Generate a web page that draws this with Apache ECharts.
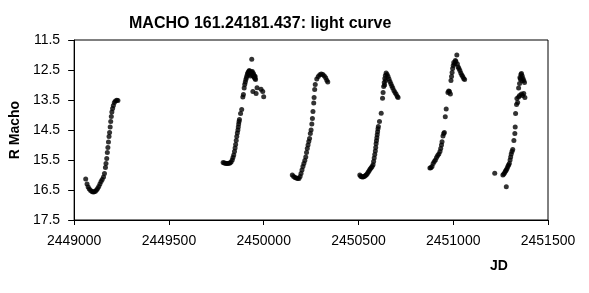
<!DOCTYPE html>
<html>
<head>
<meta charset="utf-8">
<script src="https://cdn.jsdelivr.net/npm/echarts@6/dist/echarts.min.js"></script>
<style>
html,body{margin:0;padding:0;background:#fff;}
#chart{width:589px;height:293px;}
</style>
</head>
<body>
<div id="chart"></div>
<script>
var titleText = "MACHO 161.24181.437: light curve";
var xAxisName = "JD";
var yAxisName = "R Macho";

var s1Jd  = [2449061,2449068,2449074,2449080,2449087,2449094,2449100,2449106,2449112,2449118,2449124,2449130,2449136,2449142,2449148,2449155,2449160,2449165,2449168,2449172,2449175,2449178,2449181,2449184,2449187,2449190,2449193,2449196,2449199,2449203,2449207,2449212,2449218,2449225,2449231];
var s1Mag = [16.13,16.30,16.40,16.47,16.52,16.55,16.57,16.56,16.54,16.50,16.45,16.38,16.30,16.22,16.15,16.07,15.95,15.75,15.62,15.45,15.25,15.08,14.90,14.72,14.58,14.40,14.22,14.05,13.90,13.78,13.68,13.58,13.53,13.51,13.52];

var s2Jd  = [2449786,2449792,2449798,2449804,2449810,2449816,2449822,2449828,2449834,2449838,2449842,2449846,2449849,2449852,2449855,2449858,2449861,2449864,2449866,2449868,2449870,2449872,2449878,2449884,2449890,2449893,2449897,2449900,2449903,2449906,2449909,2449912,2449915,2449918,2449921,2449924,2449927,2449930,2449933,2449936,2449939,2449942,2449945,2449948,2449951,2449954,2449957,2449925,2449930,2449940,2449946,2449950,2449955,2449937,2449943,2449960,2449965,2449986,2449995,2450000];
var s2Mag = [15.58,15.60,15.61,15.62,15.62,15.61,15.60,15.57,15.50,15.42,15.33,15.22,15.10,14.98,14.85,14.72,14.60,14.50,14.40,14.30,14.22,14.15,13.95,13.82,13.40,13.32,13.10,12.98,12.90,12.82,12.75,12.68,12.62,12.58,12.55,12.52,12.55,12.58,12.60,12.57,12.62,12.66,12.70,12.72,12.75,12.78,12.82,12.65,12.70,12.55,12.62,12.68,12.72,12.14,13.22,13.28,13.09,13.14,13.22,13.39];

var s3Jd  = [2450151,2450158,2450165,2450172,2450179,2450186,2450192,2450197,2450202,2450207,2450212,2450217,2450222,2450226,2450230,2450234,2450238,2450242,2450246,2450250,2450254,2450257,2450260,2450264,2450266,2450269,2450272,2450280,2450288,2450296,2450304,2450312,2450320,2450327,2450333,2450338];
var s3Mag = [16.00,16.05,16.08,16.10,16.12,16.12,16.05,15.95,15.83,15.72,15.62,15.52,15.40,15.25,15.12,15.00,14.88,14.78,14.62,14.50,14.30,14.12,13.88,13.60,13.42,13.15,12.98,12.80,12.72,12.66,12.63,12.65,12.70,12.76,12.84,12.90];

var s4Jd  = [2450507,2450512,2450517,2450522,2450527,2450532,2450537,2450542,2450547,2450552,2450557,2450562,2450567,2450572,2450577,2450580,2450583,2450586,2450589,2450591,2450593,2450595,2450597,2450599,2450601,2450603,2450605,2450611,2450620,2450627,2450630,2450633,2450636,2450639,2450642,2450646,2450651,2450656,2450661,2450666,2450671,2450676,2450681,2450687,2450693,2450699,2450705,2450709,2450638,2450643];
var s4Mag = [16.00,16.04,16.06,16.07,16.06,16.04,16.02,15.99,15.95,15.90,15.85,15.80,15.76,15.72,15.66,15.55,15.43,15.32,15.20,15.08,14.96,14.86,14.76,14.66,14.56,14.46,14.38,14.22,13.94,13.44,13.25,13.05,12.92,12.78,12.68,12.60,12.65,12.72,12.80,12.88,12.96,13.03,13.10,13.18,13.25,13.31,13.38,13.42,13.00,12.85];

var s5Jd  = [2450877,2450882,2450888,2450894,2450900,2450906,2450912,2450918,2450924,2450930,2450934,2450938,2450941,2450946,2450950,2450953,2450958,2450963,2450972,2450976,2450980,2450985,2450988,2450991,2450994,2450997,2451000,2451003,2451007,2451011,2451014,2451019,2451022,2451026,2451030,2451035,2451040,2451045,2451050,2451055,2451060];
var s5Mag = [15.77,15.76,15.72,15.62,15.55,15.50,15.42,15.35,15.30,15.22,15.12,15.00,14.89,14.70,14.62,14.58,14.06,13.80,13.25,13.20,13.22,13.30,12.85,12.72,12.58,12.45,12.35,12.25,12.30,12.18,12.22,12.00,12.30,12.40,12.45,12.52,12.60,12.67,12.72,12.78,12.82];

var s6Jd  = [2451219,2451262,2451267,2451272,2451276,2451280,2451284,2451288,2451292,2451296,2451300,2451303,2451306,2451310,2451314,2451280,2451320,2451325,2451327,2451329,2451334,2451340,2451336,2451345,2451350,2451360,2451366,2451372,2451378,2451345,2451350,2451354,2451357,2451360,2451364,2451368,2451372,2451376,2451352,2451362];
var s6Mag = [15.94,16.00,15.97,15.92,15.87,15.83,15.78,15.72,15.67,15.62,15.50,15.40,15.30,15.22,15.15,16.39,14.85,14.62,14.40,13.95,13.65,13.58,13.45,13.40,13.35,13.30,13.35,13.28,13.42,13.10,12.95,12.80,12.65,12.62,12.70,12.78,12.85,12.92,12.75,12.85];

var seasonsJd  = [s1Jd, s2Jd, s3Jd, s4Jd, s5Jd, s6Jd];
var seasonsMag = [s1Mag, s2Mag, s3Mag, s4Mag, s5Mag, s6Mag];

var points = [];
for (var s = 0; s < seasonsJd.length; s++) {
  for (var i = 0; i < seasonsJd[s].length; i++) {
    points.push([seasonsJd[s][i], seasonsMag[s][i]]);
  }
}

var font = "Arial, 'Liberation Sans', sans-serif";
var chart = echarts.init(document.getElementById('chart'), null, {renderer: 'canvas'});
chart.setOption({
  animation: false,
  backgroundColor: '#fff',
  title: {
    text: titleText,
    left: 129, top: 16, padding: 0,
    textStyle: {fontFamily: font, fontSize: 16, fontWeight: 'bold', color: '#000'}
  },
  graphic: [{
    type: 'text',
    left: 490, top: 259,
    style: {text: xAxisName, fontFamily: font, fontSize: 14, fontWeight: 'bold', fill: '#000'}
  }],
  grid: {
    left: 69, right: 41, top: 40, bottom: 73,
    show: true, borderColor: '#000', borderWidth: 1, backgroundColor: 'transparent'
  },
  xAxis: {
    type: 'value',
    min: 2449000, max: 2451500, interval: 500,
    axisLine: {show: true, onZero: false, lineStyle: {color: '#000', width: 1}},
    axisTick: {show: true, inside: false, length: 5, lineStyle: {color: '#000'}},
    axisLabel: {fontFamily: font, fontSize: 14, color: '#000', margin: 14,
      formatter: function (v) { return String(v); }},
    splitLine: {show: false}
  },
  yAxis: {
    type: 'value',
    inverse: true,
    min: 11.5, max: 17.5, interval: 1,
    name: yAxisName,
    nameLocation: 'middle',
    nameGap: 37,
    nameRotate: 90,
    nameTextStyle: {fontFamily: font, fontSize: 14, fontWeight: 'bold', color: '#000'},
    axisLine: {show: true, onZero: false, lineStyle: {color: '#000', width: 1}},
    axisTick: {show: true, inside: false, length: 6, lineStyle: {color: '#000'}},
    axisLabel: {fontFamily: font, fontSize: 14, color: '#000', margin: 14,
      formatter: function (v) { return v.toFixed(1); }},
    splitLine: {show: false}
  },
  series: [{
    type: 'scatter',
    data: points,
    symbol: 'circle',
    symbolSize: 5,
    itemStyle: {color: '#000'}
  }]
});
</script>
</body>
</html>
